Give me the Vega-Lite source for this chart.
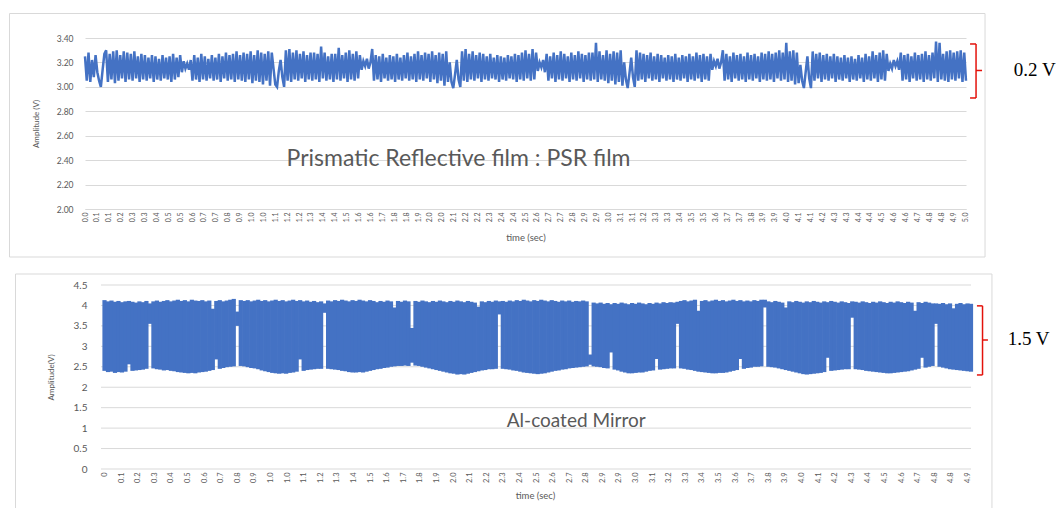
{
"$schema": "https://vega.github.io/schema/vega-lite/v6.json",
"background": "white",
"padding": {"left": 8, "top": 12, "right": 0, "bottom": 0},
"columns": 1,
"spacing": 15,
"config": {
  "view": {"stroke": null},
  "axis": {"labelFont": "Lato", "titleFont": "Lato", "labelColor": "#595959", "titleColor": "#595959", "titleFontWeight": "normal", "gridColor": "#d9d9d9", "domainColor": "#d9d9d9", "ticks": false, "labelFlush": false, "labelOverlap": false}
},
"concat": [
{
  "width": 881, "height": 171,
  "layer": [
    {
      "data": {"values": [{"fx1": -0.4285, "fx2": 5.108, "fy1": 1.607, "fy2": 3.6006}]},
      "mark": {"type": "rect", "fill": null, "fillOpacity": 0, "stroke": "#d9d9d9", "strokeWidth": 1},
      "encoding": {"x": {"field": "fx1", "type": "quantitative", "title": "time (sec)"}, "x2": {"field": "fx2"}, "y": {"field": "fy1", "type": "quantitative", "title": "Amplitude (V)"}, "y2": {"field": "fy2"}}
    },
    {
      "data": {"values": [
{"t":0.00,"v":3.25},{"t":0.01,"v":3.05},{"t":0.02,"v":3.28},{"t":0.03,"v":3.04},{"t":0.04,"v":3.22},{"t":0.05,"v":3.08},{"t":0.06,"v":3.26},{"t":0.07,"v":3.12},{"t":0.08,"v":3.05},{"t":0.09,"v":3.00},
{"t":0.10,"v":3.14},{"t":0.11,"v":3.27},{"t":0.12,"v":3.30},{"t":0.13,"v":3.04},{"t":0.14,"v":3.27},{"t":0.15,"v":3.06},{"t":0.16,"v":3.29},{"t":0.17,"v":3.03},{"t":0.18,"v":3.30},{"t":0.19,"v":3.05},
{"t":0.20,"v":3.26},{"t":0.21,"v":3.07},{"t":0.22,"v":3.29},{"t":0.23,"v":3.04},{"t":0.24,"v":3.28},{"t":0.25,"v":3.06},{"t":0.26,"v":3.27},{"t":0.27,"v":3.05},{"t":0.28,"v":3.29},{"t":0.29,"v":3.07},
{"t":0.30,"v":3.25},{"t":0.31,"v":3.04},{"t":0.32,"v":3.27},{"t":0.33,"v":3.06},{"t":0.34,"v":3.26},{"t":0.35,"v":3.05},{"t":0.36,"v":3.24},{"t":0.37,"v":3.07},{"t":0.38,"v":3.26},{"t":0.39,"v":3.04},
{"t":0.40,"v":3.25},{"t":0.41,"v":3.06},{"t":0.42,"v":3.23},{"t":0.43,"v":3.05},{"t":0.44,"v":3.26},{"t":0.45,"v":3.07},{"t":0.46,"v":3.24},{"t":0.47,"v":3.06},{"t":0.48,"v":3.25},{"t":0.49,"v":3.04},
{"t":0.50,"v":3.27},{"t":0.51,"v":3.06},{"t":0.52,"v":3.24},{"t":0.53,"v":3.08},{"t":0.54,"v":3.26},{"t":0.55,"v":3.12},{"t":0.56,"v":3.21},{"t":0.57,"v":3.15},{"t":0.58,"v":3.19},{"t":0.59,"v":3.14},
{"t":0.60,"v":3.22},{"t":0.61,"v":3.05},{"t":0.62,"v":3.26},{"t":0.63,"v":3.06},{"t":0.64,"v":3.24},{"t":0.65,"v":3.04},{"t":0.66,"v":3.27},{"t":0.67,"v":3.06},{"t":0.68,"v":3.25},{"t":0.69,"v":3.05},
{"t":0.70,"v":3.23},{"t":0.71,"v":3.07},{"t":0.72,"v":3.26},{"t":0.73,"v":3.05},{"t":0.74,"v":3.24},{"t":0.75,"v":3.06},{"t":0.76,"v":3.27},{"t":0.77,"v":3.04},{"t":0.78,"v":3.25},{"t":0.79,"v":3.07},
{"t":0.80,"v":3.28},{"t":0.81,"v":3.05},{"t":0.82,"v":3.26},{"t":0.83,"v":3.06},{"t":0.84,"v":3.27},{"t":0.85,"v":3.04},{"t":0.86,"v":3.29},{"t":0.87,"v":3.06},{"t":0.88,"v":3.26},{"t":0.89,"v":3.05},
{"t":0.90,"v":3.28},{"t":0.91,"v":3.04},{"t":0.92,"v":3.27},{"t":0.93,"v":3.06},{"t":0.94,"v":3.29},{"t":0.95,"v":3.03},{"t":0.96,"v":3.26},{"t":0.97,"v":3.05},{"t":0.98,"v":3.30},{"t":0.99,"v":3.04},
{"t":1.00,"v":3.28},{"t":1.01,"v":3.02},{"t":1.02,"v":3.27},{"t":1.03,"v":3.05},{"t":1.04,"v":3.29},{"t":1.05,"v":3.01},{"t":1.06,"v":3.28},{"t":1.07,"v":3.15},{"t":1.08,"v":3.02},{"t":1.09,"v":3.00},
{"t":1.10,"v":3.13},{"t":1.11,"v":3.22},{"t":1.12,"v":3.08},{"t":1.13,"v":3.00},{"t":1.14,"v":3.30},{"t":1.15,"v":3.05},{"t":1.16,"v":3.31},{"t":1.17,"v":3.04},{"t":1.18,"v":3.28},{"t":1.19,"v":3.06},
{"t":1.20,"v":3.30},{"t":1.21,"v":3.05},{"t":1.22,"v":3.27},{"t":1.23,"v":3.07},{"t":1.24,"v":3.29},{"t":1.25,"v":3.04},{"t":1.26,"v":3.26},{"t":1.27,"v":3.06},{"t":1.28,"v":3.28},{"t":1.29,"v":3.05},
{"t":1.30,"v":3.28},{"t":1.31,"v":3.06},{"t":1.32,"v":3.27},{"t":1.33,"v":3.04},{"t":1.34,"v":3.33},{"t":1.35,"v":3.07},{"t":1.36,"v":3.28},{"t":1.37,"v":3.05},{"t":1.38,"v":3.25},{"t":1.39,"v":3.06},
{"t":1.40,"v":3.27},{"t":1.41,"v":3.04},{"t":1.42,"v":3.27},{"t":1.43,"v":3.06},{"t":1.44,"v":3.32},{"t":1.45,"v":3.05},{"t":1.46,"v":3.26},{"t":1.47,"v":3.07},{"t":1.48,"v":3.28},{"t":1.49,"v":3.04},
{"t":1.50,"v":3.30},{"t":1.51,"v":3.06},{"t":1.52,"v":3.27},{"t":1.53,"v":3.05},{"t":1.54,"v":3.29},{"t":1.55,"v":3.07},{"t":1.56,"v":3.26},{"t":1.57,"v":3.14},{"t":1.58,"v":3.21},{"t":1.59,"v":3.17},
{"t":1.60,"v":3.23},{"t":1.61,"v":3.15},{"t":1.62,"v":3.20},{"t":1.63,"v":3.31},{"t":1.64,"v":3.05},{"t":1.65,"v":3.26},{"t":1.66,"v":3.06},{"t":1.67,"v":3.25},{"t":1.68,"v":3.04},{"t":1.69,"v":3.27},
{"t":1.70,"v":3.07},{"t":1.71,"v":3.24},{"t":1.72,"v":3.05},{"t":1.73,"v":3.26},{"t":1.74,"v":3.06},{"t":1.75,"v":3.25},{"t":1.76,"v":3.04},{"t":1.77,"v":3.27},{"t":1.78,"v":3.06},{"t":1.79,"v":3.24},
{"t":1.80,"v":3.05},{"t":1.81,"v":3.26},{"t":1.82,"v":3.07},{"t":1.83,"v":3.28},{"t":1.84,"v":3.05},{"t":1.85,"v":3.25},{"t":1.86,"v":3.06},{"t":1.87,"v":3.27},{"t":1.88,"v":3.04},{"t":1.89,"v":3.29},
{"t":1.90,"v":3.06},{"t":1.91,"v":3.26},{"t":1.92,"v":3.05},{"t":1.93,"v":3.28},{"t":1.94,"v":3.07},{"t":1.95,"v":3.27},{"t":1.96,"v":3.04},{"t":1.97,"v":3.29},{"t":1.98,"v":3.06},{"t":1.99,"v":3.26},
{"t":2.00,"v":3.03},{"t":2.01,"v":3.28},{"t":2.02,"v":3.05},{"t":2.03,"v":3.27},{"t":2.04,"v":3.01},{"t":2.05,"v":3.29},{"t":2.06,"v":3.04},{"t":2.07,"v":3.20},{"t":2.08,"v":3.04},{"t":2.09,"v":2.99},
{"t":2.10,"v":3.10},{"t":2.11,"v":3.22},{"t":2.12,"v":3.06},{"t":2.13,"v":3.00},{"t":2.14,"v":3.29},{"t":2.15,"v":3.05},{"t":2.16,"v":3.31},{"t":2.17,"v":3.04},{"t":2.18,"v":3.27},{"t":2.19,"v":3.06},
{"t":2.20,"v":3.29},{"t":2.21,"v":3.05},{"t":2.22,"v":3.26},{"t":2.23,"v":3.07},{"t":2.24,"v":3.28},{"t":2.25,"v":3.04},{"t":2.26,"v":3.27},{"t":2.27,"v":3.06},{"t":2.28,"v":3.25},{"t":2.29,"v":3.05},
{"t":2.30,"v":3.27},{"t":2.31,"v":3.07},{"t":2.32,"v":3.24},{"t":2.33,"v":3.06},{"t":2.34,"v":3.26},{"t":2.35,"v":3.04},{"t":2.36,"v":3.25},{"t":2.37,"v":3.06},{"t":2.38,"v":3.24},{"t":2.39,"v":3.05},
{"t":2.40,"v":3.26},{"t":2.41,"v":3.07},{"t":2.42,"v":3.25},{"t":2.43,"v":3.06},{"t":2.44,"v":3.27},{"t":2.45,"v":3.04},{"t":2.46,"v":3.26},{"t":2.47,"v":3.06},{"t":2.48,"v":3.28},{"t":2.49,"v":3.05},
{"t":2.50,"v":3.30},{"t":2.51,"v":3.07},{"t":2.52,"v":3.27},{"t":2.53,"v":3.05},{"t":2.54,"v":3.31},{"t":2.55,"v":3.06},{"t":2.56,"v":3.28},{"t":2.57,"v":3.13},{"t":2.58,"v":3.20},{"t":2.59,"v":3.16},
{"t":2.60,"v":3.22},{"t":2.61,"v":3.12},{"t":2.62,"v":3.27},{"t":2.63,"v":3.05},{"t":2.64,"v":3.25},{"t":2.65,"v":3.07},{"t":2.66,"v":3.28},{"t":2.67,"v":3.04},{"t":2.68,"v":3.26},{"t":2.69,"v":3.06},
{"t":2.70,"v":3.29},{"t":2.71,"v":3.05},{"t":2.72,"v":3.27},{"t":2.73,"v":3.07},{"t":2.74,"v":3.25},{"t":2.75,"v":3.04},{"t":2.76,"v":3.28},{"t":2.77,"v":3.06},{"t":2.78,"v":3.26},{"t":2.79,"v":3.05},
{"t":2.80,"v":3.29},{"t":2.81,"v":3.07},{"t":2.82,"v":3.27},{"t":2.83,"v":3.04},{"t":2.84,"v":3.26},{"t":2.85,"v":3.06},{"t":2.86,"v":3.28},{"t":2.87,"v":3.05},{"t":2.88,"v":3.28},{"t":2.89,"v":3.06},
{"t":2.90,"v":3.36},{"t":2.91,"v":3.04},{"t":2.92,"v":3.29},{"t":2.93,"v":3.06},{"t":2.94,"v":3.26},{"t":2.95,"v":3.05},{"t":2.96,"v":3.30},{"t":2.97,"v":3.03},{"t":2.98,"v":3.27},{"t":2.99,"v":3.05},
{"t":3.00,"v":3.29},{"t":3.01,"v":3.02},{"t":3.02,"v":3.28},{"t":3.03,"v":3.04},{"t":3.04,"v":3.30},{"t":3.05,"v":3.01},{"t":3.06,"v":3.20},{"t":3.07,"v":3.06},{"t":3.08,"v":2.99},{"t":3.09,"v":3.11},
{"t":3.10,"v":3.24},{"t":3.11,"v":3.08},{"t":3.12,"v":3.00},{"t":3.13,"v":3.30},{"t":3.14,"v":3.05},{"t":3.15,"v":3.28},{"t":3.16,"v":3.06},{"t":3.17,"v":3.27},{"t":3.18,"v":3.04},{"t":3.19,"v":3.26},
{"t":3.20,"v":3.07},{"t":3.21,"v":3.28},{"t":3.22,"v":3.05},{"t":3.23,"v":3.25},{"t":3.24,"v":3.06},{"t":3.25,"v":3.27},{"t":3.26,"v":3.04},{"t":3.27,"v":3.26},{"t":3.28,"v":3.07},{"t":3.29,"v":3.24},
{"t":3.30,"v":3.05},{"t":3.31,"v":3.26},{"t":3.32,"v":3.06},{"t":3.33,"v":3.25},{"t":3.34,"v":3.04},{"t":3.35,"v":3.27},{"t":3.36,"v":3.06},{"t":3.37,"v":3.24},{"t":3.38,"v":3.05},{"t":3.39,"v":3.26},
{"t":3.40,"v":3.07},{"t":3.41,"v":3.25},{"t":3.42,"v":3.04},{"t":3.43,"v":3.27},{"t":3.44,"v":3.06},{"t":3.45,"v":3.25},{"t":3.46,"v":3.05},{"t":3.47,"v":3.28},{"t":3.48,"v":3.07},{"t":3.49,"v":3.26},
{"t":3.50,"v":3.04},{"t":3.51,"v":3.27},{"t":3.52,"v":3.06},{"t":3.53,"v":3.25},{"t":3.54,"v":3.05},{"t":3.55,"v":3.27},{"t":3.56,"v":3.14},{"t":3.57,"v":3.21},{"t":3.58,"v":3.17},{"t":3.59,"v":3.23},
{"t":3.60,"v":3.15},{"t":3.61,"v":3.20},{"t":3.62,"v":3.30},{"t":3.63,"v":3.05},{"t":3.64,"v":3.27},{"t":3.65,"v":3.06},{"t":3.66,"v":3.25},{"t":3.67,"v":3.04},{"t":3.68,"v":3.28},{"t":3.69,"v":3.07},
{"t":3.70,"v":3.26},{"t":3.71,"v":3.05},{"t":3.72,"v":3.27},{"t":3.73,"v":3.06},{"t":3.74,"v":3.25},{"t":3.75,"v":3.04},{"t":3.76,"v":3.28},{"t":3.77,"v":3.06},{"t":3.78,"v":3.26},{"t":3.79,"v":3.05},
{"t":3.80,"v":3.27},{"t":3.81,"v":3.07},{"t":3.82,"v":3.25},{"t":3.83,"v":3.04},{"t":3.84,"v":3.28},{"t":3.85,"v":3.06},{"t":3.86,"v":3.27},{"t":3.87,"v":3.05},{"t":3.88,"v":3.29},{"t":3.89,"v":3.06},
{"t":3.90,"v":3.27},{"t":3.91,"v":3.04},{"t":3.92,"v":3.28},{"t":3.93,"v":3.07},{"t":3.94,"v":3.30},{"t":3.95,"v":3.05},{"t":3.96,"v":3.28},{"t":3.97,"v":3.06},{"t":3.98,"v":3.36},{"t":3.99,"v":3.04},
{"t":4.00,"v":3.29},{"t":4.01,"v":3.05},{"t":4.02,"v":3.30},{"t":4.03,"v":3.02},{"t":4.04,"v":3.28},{"t":4.05,"v":3.03},{"t":4.06,"v":3.18},{"t":4.07,"v":3.05},{"t":4.08,"v":2.99},{"t":4.09,"v":3.12},
{"t":4.10,"v":3.25},{"t":4.11,"v":3.07},{"t":4.12,"v":2.99},{"t":4.13,"v":3.29},{"t":4.14,"v":3.05},{"t":4.15,"v":3.27},{"t":4.16,"v":3.07},{"t":4.17,"v":3.28},{"t":4.18,"v":3.04},{"t":4.19,"v":3.26},
{"t":4.20,"v":3.06},{"t":4.21,"v":3.27},{"t":4.22,"v":3.05},{"t":4.23,"v":3.25},{"t":4.24,"v":3.07},{"t":4.25,"v":3.27},{"t":4.26,"v":3.04},{"t":4.27,"v":3.25},{"t":4.28,"v":3.06},{"t":4.29,"v":3.24},
{"t":4.30,"v":3.05},{"t":4.31,"v":3.26},{"t":4.32,"v":3.07},{"t":4.33,"v":3.24},{"t":4.34,"v":3.04},{"t":4.35,"v":3.25},{"t":4.36,"v":3.06},{"t":4.37,"v":3.23},{"t":4.38,"v":3.05},{"t":4.39,"v":3.26},
{"t":4.40,"v":3.07},{"t":4.41,"v":3.24},{"t":4.42,"v":3.04},{"t":4.43,"v":3.27},{"t":4.44,"v":3.06},{"t":4.45,"v":3.25},{"t":4.46,"v":3.05},{"t":4.47,"v":3.29},{"t":4.48,"v":3.07},{"t":4.49,"v":3.26},
{"t":4.50,"v":3.04},{"t":4.51,"v":3.28},{"t":4.52,"v":3.06},{"t":4.53,"v":3.30},{"t":4.54,"v":3.05},{"t":4.55,"v":3.27},{"t":4.56,"v":3.13},{"t":4.57,"v":3.19},{"t":4.58,"v":3.15},{"t":4.59,"v":3.22},
{"t":4.60,"v":3.17},{"t":4.61,"v":3.21},{"t":4.62,"v":3.14},{"t":4.63,"v":3.28},{"t":4.64,"v":3.05},{"t":4.65,"v":3.26},{"t":4.66,"v":3.06},{"t":4.67,"v":3.27},{"t":4.68,"v":3.04},{"t":4.69,"v":3.25},
{"t":4.70,"v":3.07},{"t":4.71,"v":3.28},{"t":4.72,"v":3.05},{"t":4.73,"v":3.26},{"t":4.74,"v":3.06},{"t":4.75,"v":3.27},{"t":4.76,"v":3.04},{"t":4.77,"v":3.29},{"t":4.78,"v":3.06},{"t":4.79,"v":3.26},
{"t":4.80,"v":3.05},{"t":4.81,"v":3.28},{"t":4.82,"v":3.07},{"t":4.83,"v":3.37},{"t":4.84,"v":3.04},{"t":4.85,"v":3.36},{"t":4.86,"v":3.06},{"t":4.87,"v":3.27},{"t":4.88,"v":3.05},{"t":4.89,"v":3.29},
{"t":4.90,"v":3.04},{"t":4.91,"v":3.30},{"t":4.92,"v":3.06},{"t":4.93,"v":3.28},{"t":4.94,"v":3.05},{"t":4.95,"v":3.29},{"t":4.96,"v":3.07},{"t":4.97,"v":3.30},{"t":4.98,"v":3.04},{"t":4.99,"v":3.28},
{"t":5.00,"v":3.05}
      ]},
      "mark": {"type": "line", "color": "#4472c4", "strokeWidth": 2.5},
      "encoding": {
        "x": {"field": "t", "type": "quantitative", "scale": {"domain": [0, 5], "nice": false, "zero": false},
          "axis": {"title": "time (sec)", "tickCount": 200, "values": [0,0.0675,0.135,0.2025,0.27,0.3375,0.405,0.4725,0.54,0.6075,0.675,0.7425,0.81,0.8775,0.945,1.0125,1.08,1.1475,1.215,1.2825,1.35,1.4175,1.485,1.5525,1.62,1.6875,1.755,1.8225,1.89,1.9575,2.025,2.0925,2.16,2.2275,2.295,2.3625,2.43,2.4975,2.565,2.6325,2.7,2.7675,2.835,2.9025,2.97,3.0375,3.105,3.1725,3.24,3.3075,3.375,3.4425,3.51,3.5775,3.645,3.7125,3.78,3.8475,3.915,3.9825,4.05,4.1175,4.185,4.2525,4.32,4.3875,4.455,4.5225,4.59,4.6575,4.725,4.7925,4.86,4.9275,4.995],
            "labelExpr": "['0.0','0.1','0.1','0.2','0.3','0.3','0.4','0.5','0.5','0.6','0.7','0.7','0.8','0.9','1.0','1.0','1.1','1.2','1.2','1.3','1.4','1.4','1.5','1.6','1.6','1.7','1.8','1.8','1.9','2.0','2.0','2.1','2.2','2.2','2.3','2.4','2.4','2.5','2.6','2.7','2.7','2.8','2.9','2.9','3.0','3.1','3.1','3.2','3.3','3.3','3.4','3.5','3.5','3.6','3.7','3.7','3.8','3.9','3.9','4.0','4.1','4.1','4.2','4.3','4.3','4.4','4.4','4.5','4.6','4.6','4.7','4.8','4.8','4.9','5.0'][round(datum.value/0.0675)]",
            "labelAngle": 270, "labelFontSize": 7, "labelPadding": 3, "labelOverlap": false, "labelFlush": false, "labelBound": false, "titleFontSize": 9.5, "titlePadding": 11, "grid": false}},
        "y": {"field": "v", "type": "quantitative", "scale": {"domain": [2, 3.4], "nice": false, "zero": false},
          "axis": {"title": "Amplitude (V)", "tickCount": 50, "values": [2, 2.2, 2.4, 2.6, 2.8, 3, 3.2, 3.4], "format": ".2f", "labelFontSize": 8.5, "labelPadding": 12, "labelOverlap": false, "labelFlush": false, "labelBound": false, "titleFontSize": 8, "titlePadding": 16, "domain": false, "grid": true}}
      }
    },
    {
      "data": {"values": [{"t": 2.12, "v": 2.41, "label": "Prismatic Reflective film : PSR film"}]},
      "mark": {"type": "text", "font": "Lato", "fontSize": 23, "color": "#595959"},
      "encoding": {"x": {"field": "t", "type": "quantitative", "title": "time (sec)"}, "y": {"field": "v", "type": "quantitative", "title": "Amplitude (V)"}, "text": {"field": "label"}}
    },
    {
      "data": {"values": [{"t": 5.057, "t2": 5.057, "v": 2.909, "v2": 3.351}, {"t": 5.023, "t2": 5.057, "v": 3.351, "v2": 3.351}, {"t": 5.023, "t2": 5.057, "v": 2.909, "v2": 2.909}, {"t": 5.057, "t2": 5.091, "v": 3.134, "v2": 3.134}]},
      "mark": {"type": "rule", "color": "#e3120b", "strokeWidth": 1.5},
      "encoding": {"x": {"field": "t", "type": "quantitative", "title": "time (sec)"}, "x2": {"field": "t2"}, "y": {"field": "v", "type": "quantitative", "title": "Amplitude (V)"}, "y2": {"field": "v2"}}
    },
    {
      "data": {"values": [{"t": 5.39, "v": 3.135, "label": "0.2 V"}]},
      "mark": {"type": "text", "font": "Liberation Serif", "fontSize": 19, "color": "#000000"},
      "encoding": {"x": {"field": "t", "type": "quantitative", "title": "time (sec)"}, "y": {"field": "v", "type": "quantitative", "title": "Amplitude (V)"}, "text": {"field": "label"}}
    }
  ]
},
{
  "width": 886, "height": 184,
  "layer": [
    {
      "data": {"values": [{"fx1": -0.5094, "fx2": 5.080, "fy1": -1.1, "fy2": 4.769}]},
      "mark": {"type": "rect", "fill": null, "fillOpacity": 0, "stroke": "#d9d9d9", "strokeWidth": 1},
      "encoding": {"x": {"field": "fx1", "type": "quantitative", "title": "time (sec)"}, "x2": {"field": "fx2"}, "y": {"field": "fy1", "type": "quantitative", "title": "Amplitude(V)"}, "y2": {"field": "fy2"}}
    },
    {
      "data": {"values": [{"g": 0}, {"g": 0.5}, {"g": 1}, {"g": 1.5}, {"g": 2}, {"g": 2.5}, {"g": 3}, {"g": 3.5}, {"g": 4}, {"g": 4.5}]},
      "mark": {"type": "rule", "color": "#d9d9d9", "strokeWidth": 1},
      "encoding": {"x": {"datum": -0.02}, "x2": {"datum": 4.96}, "y": {"field": "g", "type": "quantitative", "title": "Amplitude(V)"}}
    },
    {
      "data": {"values": [
{"t":0.00,"lo":2.40,"hi":4.13},{"t":0.02,"lo":2.37,"hi":4.10},{"t":0.04,"lo":2.38,"hi":4.12},{"t":0.06,"lo":2.35,"hi":4.09},{"t":0.08,"lo":2.37,"hi":4.11},
{"t":0.10,"lo":2.36,"hi":4.08},{"t":0.12,"lo":2.38,"hi":4.10},{"t":0.14,"lo":2.56,"hi":4.11},{"t":0.16,"lo":2.40,"hi":4.09},{"t":0.18,"lo":2.41,"hi":4.07},
{"t":0.20,"lo":2.42,"hi":4.10},{"t":0.22,"lo":2.43,"hi":4.08},{"t":0.24,"lo":2.45,"hi":4.11},{"t":0.26,"lo":3.55,"hi":4.05},{"t":0.28,"lo":2.46,"hi":4.10},
{"t":0.30,"lo":2.44,"hi":4.12},{"t":0.32,"lo":2.43,"hi":4.09},{"t":0.34,"lo":2.41,"hi":4.11},{"t":0.36,"lo":2.42,"hi":4.13},{"t":0.38,"lo":2.40,"hi":4.10},
{"t":0.40,"lo":2.39,"hi":4.12},{"t":0.42,"lo":2.37,"hi":4.14},{"t":0.44,"lo":2.36,"hi":4.11},{"t":0.46,"lo":2.35,"hi":4.13},{"t":0.48,"lo":2.34,"hi":4.10},
{"t":0.50,"lo":2.35,"hi":4.14},{"t":0.52,"lo":2.34,"hi":4.12},{"t":0.54,"lo":2.36,"hi":4.11},{"t":0.56,"lo":2.37,"hi":4.13},{"t":0.58,"lo":2.38,"hi":4.10},
{"t":0.60,"lo":2.40,"hi":4.12},{"t":0.62,"lo":2.42,"hi":3.92},{"t":0.64,"lo":2.68,"hi":4.11},{"t":0.66,"lo":2.45,"hi":4.13},{"t":0.68,"lo":2.47,"hi":4.10},
{"t":0.70,"lo":2.49,"hi":4.12},{"t":0.72,"lo":2.50,"hi":4.14},{"t":0.74,"lo":2.51,"hi":4.16},{"t":0.76,"lo":3.50,"hi":3.85},{"t":0.78,"lo":2.52,"hi":4.13},
{"t":0.80,"lo":2.51,"hi":4.11},{"t":0.82,"lo":2.49,"hi":4.13},{"t":0.84,"lo":2.47,"hi":4.10},{"t":0.86,"lo":2.46,"hi":4.12},{"t":0.88,"lo":2.44,"hi":4.14},
{"t":0.90,"lo":2.41,"hi":4.11},{"t":0.92,"lo":2.39,"hi":4.13},{"t":0.94,"lo":2.37,"hi":4.10},{"t":0.96,"lo":2.35,"hi":4.12},{"t":0.98,"lo":2.34,"hi":4.14},
{"t":1.00,"lo":2.33,"hi":4.11},{"t":1.02,"lo":2.34,"hi":4.13},{"t":1.04,"lo":2.33,"hi":4.10},{"t":1.06,"lo":2.35,"hi":4.12},{"t":1.08,"lo":2.36,"hi":4.14},
{"t":1.10,"lo":2.38,"hi":4.11},{"t":1.12,"lo":2.68,"hi":4.13},{"t":1.14,"lo":2.40,"hi":4.10},{"t":1.16,"lo":2.42,"hi":4.12},{"t":1.18,"lo":2.43,"hi":4.09},
{"t":1.20,"lo":2.44,"hi":4.11},{"t":1.22,"lo":2.45,"hi":4.08},{"t":1.24,"lo":2.45,"hi":4.10},{"t":1.26,"lo":3.82,"hi":4.05},{"t":1.28,"lo":2.45,"hi":4.12},
{"t":1.30,"lo":2.44,"hi":4.10},{"t":1.32,"lo":2.43,"hi":4.13},{"t":1.34,"lo":2.42,"hi":4.11},{"t":1.36,"lo":2.40,"hi":4.14},{"t":1.38,"lo":2.39,"hi":4.12},
{"t":1.40,"lo":2.37,"hi":4.10},{"t":1.42,"lo":2.36,"hi":4.13},{"t":1.44,"lo":2.36,"hi":4.11},{"t":1.46,"lo":2.37,"hi":4.14},{"t":1.48,"lo":2.36,"hi":4.12},
{"t":1.50,"lo":2.38,"hi":4.10},{"t":1.52,"lo":2.40,"hi":4.13},{"t":1.54,"lo":2.42,"hi":4.11},{"t":1.56,"lo":2.44,"hi":4.08},{"t":1.58,"lo":2.45,"hi":4.11},
{"t":1.60,"lo":2.47,"hi":4.09},{"t":1.62,"lo":2.48,"hi":4.12},{"t":1.64,"lo":2.50,"hi":4.10},{"t":1.66,"lo":2.51,"hi":3.95},{"t":1.68,"lo":2.52,"hi":4.11},
{"t":1.70,"lo":2.52,"hi":4.09},{"t":1.72,"lo":2.53,"hi":4.12},{"t":1.74,"lo":2.52,"hi":4.10},{"t":1.76,"lo":2.60,"hi":3.45},{"t":1.78,"lo":2.53,"hi":4.11},
{"t":1.80,"lo":2.52,"hi":4.09},{"t":1.82,"lo":2.50,"hi":4.12},{"t":1.84,"lo":2.48,"hi":4.10},{"t":1.86,"lo":2.46,"hi":4.08},{"t":1.88,"lo":2.44,"hi":4.11},
{"t":1.90,"lo":2.42,"hi":4.09},{"t":1.92,"lo":2.40,"hi":4.12},{"t":1.94,"lo":2.38,"hi":4.10},{"t":1.96,"lo":2.36,"hi":4.08},{"t":1.98,"lo":2.34,"hi":4.11},
{"t":2.00,"lo":2.33,"hi":4.09},{"t":2.02,"lo":2.31,"hi":4.12},{"t":2.04,"lo":2.32,"hi":4.10},{"t":2.06,"lo":2.31,"hi":4.08},{"t":2.08,"lo":2.33,"hi":4.11},
{"t":2.10,"lo":2.35,"hi":4.09},{"t":2.12,"lo":2.37,"hi":4.07},{"t":2.14,"lo":2.39,"hi":3.97},{"t":2.16,"lo":2.41,"hi":4.10},{"t":2.18,"lo":2.42,"hi":4.08},
{"t":2.20,"lo":2.44,"hi":4.11},{"t":2.22,"lo":2.44,"hi":4.09},{"t":2.24,"lo":2.45,"hi":4.12},{"t":2.26,"lo":3.78,"hi":4.10},{"t":2.28,"lo":2.45,"hi":4.11},
{"t":2.30,"lo":2.44,"hi":4.09},{"t":2.32,"lo":2.43,"hi":4.12},{"t":2.34,"lo":2.41,"hi":4.10},{"t":2.36,"lo":2.40,"hi":4.13},{"t":2.38,"lo":2.38,"hi":4.11},
{"t":2.40,"lo":2.36,"hi":4.14},{"t":2.42,"lo":2.35,"hi":4.12},{"t":2.44,"lo":2.34,"hi":4.10},{"t":2.46,"lo":2.33,"hi":4.13},{"t":2.48,"lo":2.32,"hi":4.11},
{"t":2.50,"lo":2.33,"hi":4.14},{"t":2.52,"lo":2.34,"hi":4.12},{"t":2.54,"lo":2.36,"hi":4.10},{"t":2.56,"lo":2.38,"hi":4.13},{"t":2.58,"lo":2.40,"hi":4.11},
{"t":2.60,"lo":2.41,"hi":4.09},{"t":2.62,"lo":2.43,"hi":4.12},{"t":2.64,"lo":2.44,"hi":4.10},{"t":2.66,"lo":2.46,"hi":4.12},{"t":2.68,"lo":2.47,"hi":4.09},
{"t":2.70,"lo":2.48,"hi":4.11},{"t":2.72,"lo":2.49,"hi":4.10},{"t":2.74,"lo":2.50,"hi":4.12},{"t":2.76,"lo":2.51,"hi":4.10},{"t":2.78,"lo":2.55,"hi":2.80},
{"t":2.80,"lo":2.51,"hi":4.07},{"t":2.82,"lo":2.50,"hi":4.05},{"t":2.84,"lo":2.49,"hi":4.07},{"t":2.86,"lo":2.47,"hi":4.04},{"t":2.88,"lo":2.46,"hi":4.06},
{"t":2.90,"lo":2.85,"hi":4.03},{"t":2.92,"lo":2.43,"hi":4.06},{"t":2.94,"lo":2.41,"hi":4.04},{"t":2.96,"lo":2.38,"hi":4.07},{"t":2.98,"lo":2.36,"hi":4.05},
{"t":3.00,"lo":2.34,"hi":4.03},{"t":3.02,"lo":2.34,"hi":4.06},{"t":3.04,"lo":2.35,"hi":4.04},{"t":3.06,"lo":2.36,"hi":4.07},{"t":3.08,"lo":2.36,"hi":4.05},
{"t":3.10,"lo":2.38,"hi":4.03},{"t":3.12,"lo":2.40,"hi":4.06},{"t":3.14,"lo":2.41,"hi":4.04},{"t":3.16,"lo":2.69,"hi":4.07},{"t":3.18,"lo":2.43,"hi":4.05},
{"t":3.20,"lo":2.44,"hi":4.08},{"t":3.22,"lo":2.45,"hi":4.06},{"t":3.24,"lo":2.46,"hi":4.08},{"t":3.26,"lo":2.46,"hi":4.07},{"t":3.28,"lo":3.55,"hi":4.09},
{"t":3.30,"lo":2.46,"hi":4.11},{"t":3.32,"lo":2.45,"hi":4.13},{"t":3.34,"lo":2.43,"hi":4.10},{"t":3.36,"lo":2.42,"hi":4.12},{"t":3.38,"lo":2.40,"hi":4.14},
{"t":3.40,"lo":2.38,"hi":3.87},{"t":3.42,"lo":2.37,"hi":4.11},{"t":3.44,"lo":2.36,"hi":4.13},{"t":3.46,"lo":2.35,"hi":4.10},{"t":3.48,"lo":2.34,"hi":4.12},
{"t":3.50,"lo":2.34,"hi":4.14},{"t":3.52,"lo":2.35,"hi":4.11},{"t":3.54,"lo":2.35,"hi":4.13},{"t":3.56,"lo":2.36,"hi":4.10},{"t":3.58,"lo":2.38,"hi":4.12},
{"t":3.60,"lo":2.40,"hi":4.14},{"t":3.62,"lo":2.42,"hi":4.11},{"t":3.64,"lo":2.69,"hi":4.13},{"t":3.66,"lo":2.45,"hi":4.10},{"t":3.68,"lo":2.47,"hi":4.12},
{"t":3.70,"lo":2.48,"hi":4.10},{"t":3.72,"lo":2.50,"hi":4.13},{"t":3.74,"lo":2.50,"hi":4.11},{"t":3.76,"lo":2.51,"hi":4.14},{"t":3.78,"lo":3.95,"hi":4.14},
{"t":3.80,"lo":2.50,"hi":4.10},{"t":3.82,"lo":2.49,"hi":4.08},{"t":3.84,"lo":2.48,"hi":4.11},{"t":3.86,"lo":2.46,"hi":4.09},{"t":3.88,"lo":2.44,"hi":4.07},
{"t":3.90,"lo":2.42,"hi":3.95},{"t":3.92,"lo":2.40,"hi":4.10},{"t":3.94,"lo":2.38,"hi":4.08},{"t":3.96,"lo":2.36,"hi":4.11},{"t":3.98,"lo":2.34,"hi":4.09},
{"t":4.00,"lo":2.32,"hi":4.07},{"t":4.02,"lo":2.31,"hi":4.10},{"t":4.04,"lo":2.32,"hi":4.08},{"t":4.06,"lo":2.33,"hi":4.11},{"t":4.08,"lo":2.34,"hi":4.09},
{"t":4.10,"lo":2.35,"hi":4.07},{"t":4.12,"lo":2.37,"hi":4.10},{"t":4.14,"lo":2.72,"hi":4.08},{"t":4.16,"lo":2.40,"hi":4.11},{"t":4.18,"lo":2.41,"hi":4.09},
{"t":4.20,"lo":2.42,"hi":4.07},{"t":4.22,"lo":2.43,"hi":4.10},{"t":4.24,"lo":2.44,"hi":4.08},{"t":4.26,"lo":2.44,"hi":4.06},{"t":4.28,"lo":3.70,"hi":4.10},
{"t":4.30,"lo":2.44,"hi":4.09},{"t":4.32,"lo":2.43,"hi":4.07},{"t":4.34,"lo":2.42,"hi":4.10},{"t":4.36,"lo":2.40,"hi":4.08},{"t":4.38,"lo":2.39,"hi":4.06},
{"t":4.40,"lo":2.38,"hi":4.09},{"t":4.42,"lo":2.37,"hi":4.07},{"t":4.44,"lo":2.36,"hi":4.10},{"t":4.46,"lo":2.35,"hi":4.08},{"t":4.48,"lo":2.34,"hi":4.06},
{"t":4.50,"lo":2.34,"hi":4.09},{"t":4.52,"lo":2.35,"hi":4.07},{"t":4.54,"lo":2.36,"hi":4.10},{"t":4.56,"lo":2.37,"hi":4.08},{"t":4.58,"lo":2.38,"hi":4.06},
{"t":4.60,"lo":2.39,"hi":4.09},{"t":4.62,"lo":2.41,"hi":4.07},{"t":4.64,"lo":2.43,"hi":3.87},{"t":4.66,"lo":2.45,"hi":4.08},{"t":4.68,"lo":2.72,"hi":4.06},
{"t":4.70,"lo":2.48,"hi":4.09},{"t":4.72,"lo":2.50,"hi":4.07},{"t":4.74,"lo":2.52,"hi":4.05},{"t":4.76,"lo":3.55,"hi":4.05},{"t":4.78,"lo":2.50,"hi":4.04},
{"t":4.80,"lo":2.48,"hi":4.06},{"t":4.82,"lo":2.46,"hi":4.03},{"t":4.84,"lo":2.44,"hi":4.05},{"t":4.86,"lo":2.43,"hi":3.93},{"t":4.88,"lo":2.42,"hi":4.04},
{"t":4.90,"lo":2.41,"hi":4.06},{"t":4.92,"lo":2.40,"hi":4.03},{"t":4.94,"lo":2.39,"hi":4.05},{"t":4.96,"lo":2.38,"hi":4.04}
      ]},
      "mark": {"type": "rule", "color": "#4472c4", "strokeWidth": 4.2},
      "encoding": {
        "x": {"field": "t", "type": "quantitative", "scale": {"domain": [-0.1116, 4.96], "nice": false, "zero": false},
          "axis": {"title": "time (sec)", "tickCount": 200, "domain": false, "values": [0,0.095,0.19,0.285,0.38,0.475,0.57,0.665,0.76,0.855,0.95,1.045,1.14,1.235,1.33,1.425,1.52,1.615,1.71,1.805,1.9,1.995,2.09,2.185,2.28,2.375,2.47,2.565,2.66,2.755,2.85,2.945,3.04,3.135,3.23,3.325,3.42,3.515,3.61,3.705,3.8,3.895,3.99,4.085,4.18,4.275,4.37,4.465,4.56,4.655,4.75,4.845,4.94],
            "labelExpr": "['0','0.1','0.2','0.3','0.4','0.5','0.6','0.7','0.8','0.9','1.0','1.0','1.1','1.2','1.3','1.4','1.5','1.6','1.7','1.8','1.9','2.0','2.1','2.2','2.3','2.4','2.5','2.6','2.7','2.8','2.9','2.9','3.0','3.1','3.2','3.3','3.4','3.5','3.6','3.7','3.8','3.9','4.0','4.1','4.2','4.3','4.4','4.5','4.6','4.7','4.8','4.8','4.9'][round(datum.value/0.095)]",
            "labelAngle": 270, "labelFontSize": 7.5, "labelPadding": 3, "labelOverlap": false, "labelFlush": false, "labelBound": false, "titleFontSize": 9.5, "titlePadding": 8, "titleX": 450, "grid": false}},
        "y": {"field": "lo", "type": "quantitative", "scale": {"domain": [0, 4.5], "nice": false, "zero": false},
          "axis": {"title": "Amplitude(V)", "tickCount": 50, "offset": -16, "values": [0, 0.5, 1, 1.5, 2, 2.5, 3, 3.5, 4, 4.5], "format": "~g", "labelFontSize": 10, "labelPadding": 14, "labelOverlap": false, "labelFlush": false, "labelBound": false, "titleFontSize": 8, "titlePadding": 18, "domain": false, "grid": false}},
        "y2": {"field": "hi"}
      }
    },
    {
      "data": {"values": [{"t": 2.70, "lo": 1.17, "label": "Al-coated Mirror"}]},
      "mark": {"type": "text", "font": "Lato", "fontSize": 19, "color": "#595959"},
      "encoding": {"x": {"field": "t", "type": "quantitative", "title": "time (sec)"}, "y": {"field": "lo", "type": "quantitative", "title": "Amplitude(V)"}, "text": {"field": "label"}}
    },
    {
      "data": {"values": [{"t": 5.026, "t2": 5.026, "lo": 2.30, "hi": 3.99}, {"t": 4.994, "t2": 5.026, "lo": 3.99, "hi": 3.99}, {"t": 4.994, "t2": 5.026, "lo": 2.30, "hi": 2.30}, {"t": 5.026, "t2": 5.057, "lo": 3.155, "hi": 3.155}]},
      "mark": {"type": "rule", "color": "#e3120b", "strokeWidth": 1.5},
      "encoding": {"x": {"field": "t", "type": "quantitative", "title": "time (sec)"}, "x2": {"field": "t2"}, "y": {"field": "lo", "type": "quantitative", "title": "Amplitude(V)"}, "y2": {"field": "hi"}}
    },
    {
      "data": {"values": [{"t": 5.29, "lo": 3.18, "label": "1.5 V"}]},
      "mark": {"type": "text", "font": "Liberation Serif", "fontSize": 19, "color": "#000000"},
      "encoding": {"x": {"field": "t", "type": "quantitative", "title": "time (sec)"}, "y": {"field": "lo", "type": "quantitative", "title": "Amplitude(V)"}, "text": {"field": "label"}}
    }
  ]
}
]
}
